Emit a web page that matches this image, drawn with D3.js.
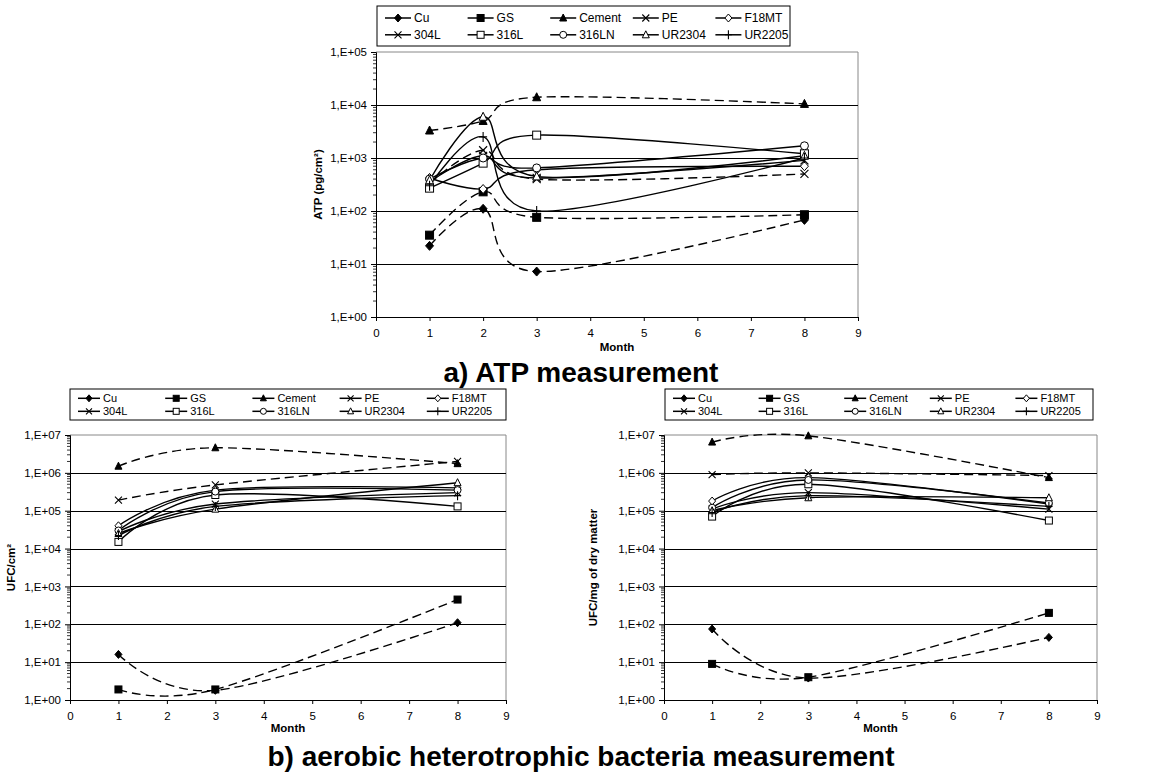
<!DOCTYPE html>
<html><head><meta charset="utf-8">
<script src="https://cdn.jsdelivr.net/npm/d3@7"></script>
<style>
html,body{margin:0;padding:0;background:#fff;}
svg{display:block;font-family:"Liberation Sans",Arial,sans-serif;}
</style></head>
<body>
<svg id="c" width="1162" height="774"></svg>
<script>
// ---------- data ----------
const seriesNames = ["Cu","GS","Cement","PE","F18MT","304L","316L","316LN","UR2304","UR2205"];
const seriesMarkers = ["diamondFill","squareFill","triangleFill","cross","diamond","cross","square","circle","triangle","plus"];
const seriesDashed = [true,true,true,true,false,false,false,false,false,false];

const atpMonths = [1,2,3,8];
const atpValues = [
  [22, 110, 7.2, 68],        // Cu
  [35, 230, 76, 85],         // GS
  [3300, 5000, 14000, 10500],// Cement
  [330, 1400, 400, 500],     // PE
  [420, 260, 600, 700],      // F18MT
  [350, 1100, 420, 900],     // 304L
  [270, 800, 2700, 1200],    // 316L
  [400, 1000, 650, 1700],    // 316LN
  [380, 6000, 450, 1100],    // UR2304
  [300, 2500, 100, 1000]     // UR2205
];

const bactMonths = [1,3,8];
const cm2Values = [
  [16, 1.8, 110],
  [1.9, 1.9, 450],
  [1.5e6, 4.6e6, 1.75e6],
  [1.9e5, 4.8e5, 2.0e6],
  [4e4, 3.5e5, 4e5],
  [2.8e4, 1.5e5, 3e5],
  [1.5e4, 2.6e5, 1.3e5],
  [3e4, 3.2e5, 3.5e5],
  [2.5e4, 1.1e5, 5.5e5],
  [2.2e4, 1.3e5, 2.5e5]
];
const mgValues = [
  [75, 3.8, 45],
  [9, 4, 200],
  [6.5e6, 9.5e6, 7.5e5],
  [9e5, 1e6, 8.5e5],
  [1.8e5, 7.5e5, 1.5e5],
  [1.1e5, 3e5, 1.1e5],
  [7e4, 5e5, 5.5e4],
  [1.2e5, 6.5e5, 1.6e5],
  [1e5, 2.2e5, 2.2e5],
  [9e4, 2.5e5, 1.3e5]
];

const xTicks = [0,1,2,3,4,5,6,7,8,9];
const atpYTicks = [1,10,100,1000,10000,100000];
const bactYTicks = [1,10,100,1000,1e4,1e5,1e6,1e7];
const fmtE = v => "1,E+" + String(Math.round(Math.log10(v))).padStart(2,"0");

// ---------- drawing ----------
const svg = d3.select("#c");

function marker(g, type, x, y, s) {
  const h = s/2;
  if (type === "diamondFill" || type === "diamond") {
    g.append("path").attr("d", `M${x},${y-h-0.5}L${x+h},${y}L${x},${y+h+0.5}L${x-h},${y}Z`)
      .attr("fill", type === "diamondFill" ? "#000" : "#fff").attr("stroke","#000").attr("stroke-width",1);
  } else if (type === "squareFill" || type === "square") {
    g.append("rect").attr("x", x-h).attr("y", y-h).attr("width", s).attr("height", s)
      .attr("fill", type === "squareFill" ? "#000" : "#fff").attr("stroke","#000").attr("stroke-width",1);
  } else if (type === "triangleFill" || type === "triangle") {
    g.append("path").attr("d", `M${x},${y-h-0.5}L${x+h},${y+h-0.5}L${x-h},${y+h-0.5}Z`)
      .attr("fill", type === "triangleFill" ? "#000" : "#fff").attr("stroke","#000").attr("stroke-width",1);
  } else if (type === "circle") {
    g.append("circle").attr("cx", x).attr("cy", y).attr("r", h)
      .attr("fill","#fff").attr("stroke","#000").attr("stroke-width",1);
  } else if (type === "cross") {
    g.append("path").attr("d", `M${x-h},${y-h}L${x+h},${y+h}M${x-h},${y+h}L${x+h},${y-h}`)
      .attr("stroke","#000").attr("stroke-width",1.1).attr("fill","none");
  } else if (type === "plus") {
    g.append("path").attr("d", `M${x},${y-h-1}L${x},${y+h+1}M${x-h},${y}L${x+h},${y}`)
      .attr("stroke","#000").attr("stroke-width",1.1).attr("fill","none");
  }
}

function drawLegend(box, fontSize) {
  const g = svg.append("g");
  g.append("rect").attr("x", box.x).attr("y", box.y).attr("width", box.w).attr("height", box.h)
    .attr("fill","#fff").attr("stroke","#000").attr("stroke-width",1);
  const colW = box.w / 5;
  seriesNames.forEach((name, i) => {
    const col = i % 5, row = Math.floor(i / 5);
    const x0 = box.x + 8 + col * colW;
    const y0 = box.y + box.h * (row === 0 ? 0.3 : 0.72);
    g.append("line").attr("x1", x0).attr("x2", x0 + box.line).attr("y1", y0).attr("y2", y0)
      .attr("stroke","#000").attr("stroke-width",1.5);
    marker(g, seriesMarkers[i], x0 + box.line/2, y0, box.ms);
    g.append("text").attr("x", x0 + box.line + 3).attr("y", y0).attr("dy","0.36em")
      .attr("font-size", fontSize).text(name);
  });
}

function drawChart(cfg) {
  const g = svg.append("g");
  const x = d3.scaleLinear().domain([0,9]).range([cfg.left, cfg.right]);
  const y = d3.scaleLog().domain(cfg.yDomain).range([cfg.bottom, cfg.top]);

  // plot border (gray)
  g.append("path").attr("d", `M${cfg.left},${cfg.top}H${cfg.right}V${cfg.bottom}`)
    .attr("fill","none").attr("stroke","#888").attr("stroke-width",1);
  // gridlines
  cfg.yTicks.slice(1, -1).forEach(t => {
    g.append("line").attr("x1", cfg.left).attr("x2", cfg.right)
      .attr("y1", Math.round(y(t))+0.5).attr("y2", Math.round(y(t))+0.5)
      .attr("stroke","#000").attr("stroke-width",1);
  });

  // y axis with minor ticks
  const yAxis = d3.axisLeft(y).tickValues(cfg.yTicks).tickFormat(fmtE).tickSize(5).tickPadding(4);
  const ya = g.append("g").attr("transform", `translate(${cfg.left},0)`).call(yAxis);
  ya.selectAll("text").attr("font-size", cfg.tickFont).attr("font-family","Liberation Sans, Arial, sans-serif").attr("fill","#000");
  ya.select(".domain").attr("stroke","#000");
  const minor = [];
  for (let d = cfg.yDomain[0]; d < cfg.yDomain[1]; d *= 10) for (let k = 2; k < 10; k++) minor.push(d*k);
  g.selectAll(null).data(minor).enter().append("line")
    .attr("x1", cfg.left - 3).attr("x2", cfg.left)
    .attr("y1", d => y(d)).attr("y2", d => y(d)).attr("stroke","#000").attr("stroke-width",0.8);

  // x axis
  const xAxis = d3.axisBottom(x).tickValues(xTicks).tickFormat(d3.format("d")).tickSize(4).tickPadding(8);
  const xa = g.append("g").attr("transform", `translate(0,${cfg.bottom})`).call(xAxis);
  xa.selectAll("text").attr("font-size", cfg.tickFont).attr("font-family","Liberation Sans, Arial, sans-serif").attr("fill","#000");
  xa.select(".domain").attr("stroke","#000");

  // axis titles
  g.append("text").attr("x", (cfg.left+cfg.right)/2).attr("y", cfg.bottom + cfg.monthDy)
    .attr("text-anchor","middle").attr("font-size", cfg.labelFont).attr("font-weight","bold").text("Month");
  g.append("text").attr("transform", `translate(${cfg.yLabelX},${(cfg.top+cfg.bottom)/2}) rotate(-90)`)
    .attr("text-anchor","middle").attr("font-size", cfg.labelFont).attr("font-weight","bold").text(cfg.yLabel);

  // series
  const line = d3.line().x(d => x(d[0])).y(d => y(d[1])).curve(d3.curveCardinal.tension(0));
  cfg.values.forEach((vals, i) => {
    const pts = cfg.months.map((m, j) => [m, vals[j]]);
    g.append("path").attr("d", line(pts)).attr("fill","none").attr("stroke","#000")
      .attr("stroke-width", 1.4).attr("stroke-dasharray", seriesDashed[i] ? "9,5" : null);
  });
  cfg.values.forEach((vals, i) => {
    cfg.months.forEach((m, j) => marker(g, seriesMarkers[i], x(m), y(vals[j]), cfg.ms));
  });
}

// Top chart: ATP
drawLegend({x: 377, y: 6, w: 413, h: 40, line: 26, ms: 7}, 12);
drawChart({left: 376, right: 858, top: 52, bottom: 317, yDomain: [1, 1e5], yTicks: atpYTicks,
  months: atpMonths, values: atpValues, yLabel: "ATP (pg/cm²)", yLabelX: 322,
  tickFont: 11.5, labelFont: 11.5, monthDy: 34, ms: 8});
svg.append("text").attr("x", 581).attr("y", 382).attr("text-anchor","middle")
  .attr("font-size", 28).attr("font-weight","bold").text("a) ATP measurement");

// Bottom-left: UFC/cm²
drawLegend({x: 70, y: 389, w: 436, h: 31, line: 22, ms: 6}, 11);
drawChart({left: 70, right: 506, top: 435, bottom: 700, yDomain: [1, 1e7], yTicks: bactYTicks,
  months: bactMonths, values: cm2Values, yLabel: "UFC/cm²", yLabelX: 15,
  tickFont: 11.5, labelFont: 11.5, monthDy: 32, ms: 7});

// Bottom-right: UFC/mg of dry matter
drawLegend({x: 665, y: 389, w: 428, h: 31, line: 22, ms: 6}, 11);
drawChart({left: 664, right: 1097, top: 435, bottom: 700, yDomain: [1, 1e7], yTicks: bactYTicks,
  months: bactMonths, values: mgValues, yLabel: "UFC/mg of dry matter", yLabelX: 597,
  tickFont: 11.5, labelFont: 11.5, monthDy: 32, ms: 7});

svg.append("text").attr("x", 581).attr("y", 766).attr("text-anchor","middle")
  .attr("font-size", 28).attr("font-weight","bold").text("b) aerobic heterotrophic bacteria measurement");
</script>
</body></html>
